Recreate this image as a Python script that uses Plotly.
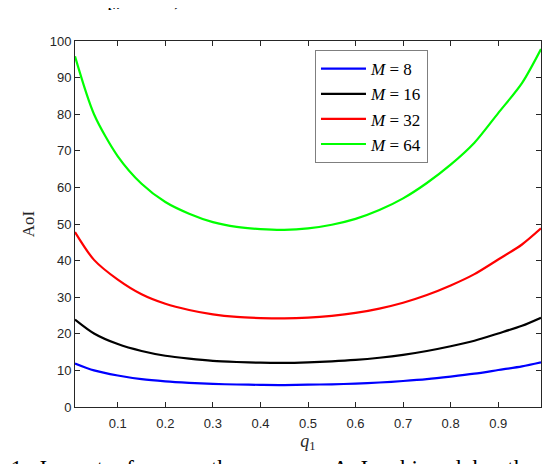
import plotly.graph_objects as go

# ---------------------------
# data
# ---------------------------
q1 = [0.01, 0.05, 0.1, 0.15, 0.2, 0.25, 0.3, 0.35, 0.4, 0.45, 0.5,
      0.55, 0.6, 0.65, 0.7, 0.75, 0.8, 0.85, 0.9, 0.95, 0.99]

aoi_m8 = [11.9, 10.0, 8.6, 7.6, 7.0, 6.6, 6.3, 6.15, 6.05, 6.0, 6.1,
          6.2, 6.4, 6.7, 7.1, 7.6, 8.3, 9.1, 10.1, 11.1, 12.2]
aoi_m16 = [23.9, 20.1, 17.2, 15.3, 14.0, 13.2, 12.6, 12.3, 12.1, 12.05, 12.2,
           12.45, 12.85, 13.45, 14.25, 15.3, 16.6, 18.1, 20.1, 22.2, 24.4]
aoi_m32 = [47.8, 40.2, 34.8, 30.8, 28.2, 26.5, 25.3, 24.6, 24.3, 24.2, 24.4,
           24.9, 25.7, 26.9, 28.5, 30.6, 33.2, 36.3, 40.3, 44.4, 48.8]
aoi_m64 = [95.8, 80.0, 68.5, 61.0, 56.0, 52.8, 50.5, 49.2, 48.6, 48.4, 48.8,
           49.8, 51.4, 53.8, 57.0, 61.2, 66.2, 72.2, 80.3, 88.5, 97.8]

series_names = ["<i>M</i> = 8", "<i>M</i> = 16", "<i>M</i> = 32", "<i>M</i> = 64"]
series_vals = [aoi_m8, aoi_m16, aoi_m32, aoi_m64]
colors = ["#0000ff", "#000000", "#ff0000", "#00ff00"]

x_ticks = [0.1, 0.2, 0.3, 0.4, 0.5, 0.6, 0.7, 0.8, 0.9]
y_ticks = [0, 10, 20, 30, 40, 50, 60, 70, 80, 90, 100]

caption = "11.&nbsp; Impact&nbsp; of&nbsp; <i>q</i><sub>1</sub>&nbsp; on&nbsp; the&nbsp; average&nbsp; AoI&nbsp; achieved&nbsp; by&nbsp; the"

serif = "Liberation Serif"
sans = "Liberation Sans"

fig = go.Figure()
for name, vals, c in zip(series_names, series_vals, colors):
    fig.add_trace(go.Scatter(
        x=q1, y=vals, mode="lines", name=name, cliponaxis=False,
        line=dict(color=c, width=2.2, shape="spline", smoothing=0.8),
    ))

axis_common = dict(
    showgrid=False, zeroline=False,
    showline=True, linecolor="#262626", linewidth=1,
    mirror="ticks", ticks="inside", ticklen=5, tickwidth=1, tickcolor="#262626",
    tickfont=dict(family=sans, size=13, color="#262626"),
)

fig.update_xaxes(range=[0.01, 0.99], tickvals=x_ticks, ticklabelstandoff=4,
                 ticktext=[f"{v:.1f}" for v in x_ticks], **axis_common)
fig.update_xaxes(title=dict(text="<i>q</i><sub>1</sub>",
                            font=dict(family=serif, size=18, color="#262626"),
                            standoff=1))
fig.update_yaxes(range=[0, 100], tickvals=y_ticks, **axis_common)
fig.update_yaxes(title=dict(text="AoI", font=dict(family=serif, size=17, color="#262626"),
                            standoff=10))

# page body adds an 8px margin, so the figure is a bit smaller than the window
fig.update_layout(
    width=544, height=456,
    margin=dict(l=67, r=11, t=33, b=57),
    plot_bgcolor="white", paper_bgcolor="white",
    showlegend=True,
    legend=dict(
        x=0.515, y=0.975, xanchor="left", yanchor="top",
        bgcolor="white", bordercolor="#7f7f7f", borderwidth=1,
        font=dict(family=serif, size=17, color="black"),
        tracegroupgap=0, itemwidth=45,
    ),
)

# fragments of the surrounding page text, clipped by the edges
fig.add_annotation(text=caption,
                   xref="paper", yref="paper", x=-0.166, y=-0.128,
                   xanchor="left", yanchor="top", showarrow=False,
                   font=dict(family=serif, size=23, color="black"))
fig.add_annotation(text="<i>q<sub>k</sub></i>           )",
                   xref="paper", yref="paper", x=0.055, y=1.075,
                   xanchor="left", yanchor="bottom", showarrow=False,
                   font=dict(family=serif, size=20, color="black"))

fig.write_html("out.html")
